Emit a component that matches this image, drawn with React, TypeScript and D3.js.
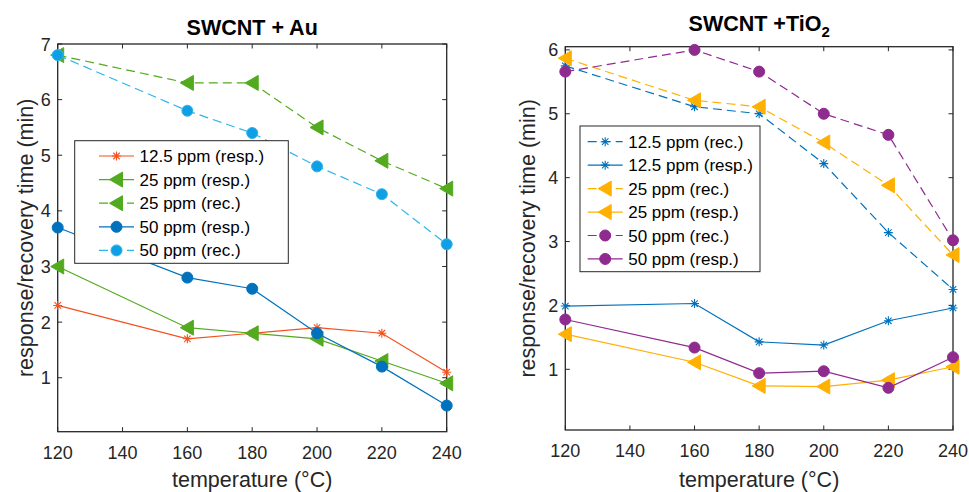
import React from 'react';
import * as d3 from 'd3';

// temperatures (°C) used for every series
const temps = [120, 160, 180, 200, 220, 240];

// SWCNT + Au (min)
const auResp125 = [2.3, 1.7, 1.8, 1.9, 1.8, 1.1];
const auResp25 = [3.0, 1.9, 1.8, 1.7, 1.3, 0.9];
const auRec25 = [6.8, 6.3, 6.3, 5.5, 4.9, 4.4];
const auResp50 = [3.7, 2.8, 2.6, 1.8, 1.2, 0.5];
const auRec50 = [6.8, 5.8, 5.4, 4.8, 4.3, 3.4];

// SWCNT + TiO2 (min)
const tiRec125 = [5.75, 5.11, 5.0, 4.22, 3.14, 2.25];
const tiResp125 = [1.99, 2.03, 1.43, 1.38, 1.76, 1.96];
const tiRec25 = [5.87, 5.21, 5.11, 4.55, 3.88, 2.79];
const tiResp25 = [1.55, 1.11, 0.74, 0.73, 0.83, 1.04];
const tiRec50 = [5.66, 6.0, 5.66, 5.0, 4.67, 3.02];
const tiResp50 = [1.78, 1.34, 0.94, 0.97, 0.71, 1.19];

const xTicks = [120, 140, 160, 180, 200, 220, 240];
const auYTicks = [1, 2, 3, 4, 5, 6, 7];
const tiYTicks = [1, 2, 3, 4, 5, 6];
const auYLim = [0.03, 7];
const tiYLim = [0.05, 6.05];

const auLabels = ['12.5 ppm (resp.)', '25 ppm (resp.)', '25 ppm (rec.)', '50 ppm (resp.)', '50 ppm (rec.)'];
const tiLabels = ['12.5 ppm (rec.)', '12.5 ppm (resp.)', '25 ppm (rec.)', '25 ppm (resp.)', '50 ppm (rec.)', '50 ppm (resp.)'];

const FONT = 'Liberation Sans, Arial, Helvetica, sans-serif';
const AX = '#262626';

type Marker = 'star' | 'tri' | 'circle';
type Series = {
  label: string;
  values: number[];
  color: string;
  fill: string;
  marker: Marker;
  dashed: boolean;
};

const orange = '#F4511E';
const green = '#52AA1E';
const blue = '#0072BD';
const cyan = '#2CB5EE';
const yellow = '#FFB000';
const purple = '#8F2A8F';

const auSeries: Series[] = [
  { label: auLabels[0], values: auResp125, color: orange, fill: orange, marker: 'star', dashed: false },
  { label: auLabels[1], values: auResp25, color: green, fill: green, marker: 'tri', dashed: false },
  { label: auLabels[2], values: auRec25, color: green, fill: green, marker: 'tri', dashed: true },
  { label: auLabels[3], values: auResp50, color: blue, fill: blue, marker: 'circle', dashed: false },
  { label: auLabels[4], values: auRec50, color: cyan, fill: '#0F9FE4', marker: 'circle', dashed: true },
];

const tiSeries: Series[] = [
  { label: tiLabels[0], values: tiRec125, color: blue, fill: blue, marker: 'star', dashed: true },
  { label: tiLabels[1], values: tiResp125, color: blue, fill: blue, marker: 'star', dashed: false },
  { label: tiLabels[2], values: tiRec25, color: yellow, fill: yellow, marker: 'tri', dashed: true },
  { label: tiLabels[3], values: tiResp25, color: yellow, fill: yellow, marker: 'tri', dashed: false },
  { label: tiLabels[4], values: tiRec50, color: purple, fill: purple, marker: 'circle', dashed: true },
  { label: tiLabels[5], values: tiResp50, color: purple, fill: purple, marker: 'circle', dashed: false },
];

function MarkerShape({ type, x, y, color, fill }: { type: Marker; x: number; y: number; color: string; fill: string }) {
  if (type === 'circle') {
    return <circle cx={x} cy={y} r={5.5} fill={fill} stroke={color} strokeWidth={1} />;
  }
  if (type === 'tri') {
    return (
      <path
        d={`M${x - 7},${y} L${x + 6},${y - 7.5} L${x + 6},${y + 7.5} Z`}
        fill={fill}
        stroke={color}
        strokeWidth={1}
      />
    );
  }
  const r = 4.5;
  const d = r * 0.72;
  return (
    <path
      d={`M${x - r},${y}H${x + r}M${x},${y - r}V${y + r}M${x - d},${y - d}L${x + d},${y + d}M${x - d},${y + d}L${x + d},${y - d}`}
      stroke={color}
      strokeWidth={1.1}
      fill="none"
    />
  );
}

type PanelProps = {
  title: React.ReactNode;
  titleY: number;
  box: { x0: number; x1: number; y0: number; y1: number };
  yLim: number[];
  yTicks: number[];
  series: Series[];
  legend: { x: number; y: number; w: number; h: number; row0: number; step: number; pad: number };
  yLabelX: number;
};

function Panel({ title, titleY, box, yLim, yTicks, series, legend, yLabelX }: PanelProps) {
  const x = d3.scaleLinear().domain([120, 240]).range([box.x0, box.x1]);
  const y = d3.scaleLinear().domain(yLim).range([box.y1, box.y0]);
  const line = d3
    .line<number>()
    .x((_, i) => x(temps[i]))
    .y((v) => y(v));
  const tick = 4.5;
  const cx = (box.x0 + box.x1) / 2;
  const cy = (box.y0 + box.y1) / 2;

  return (
    <g fontFamily={FONT}>
      <text x={cx} y={titleY} textAnchor="middle" fontSize={21.5} fontWeight="bold" fill="#000">
        {title}
      </text>

      <rect x={box.x0} y={box.y0} width={box.x1 - box.x0} height={box.y1 - box.y0} fill="white" />
      {xTicks.map((t) => (
        <g key={'x' + t}>
          <line x1={x(t)} x2={x(t)} y1={box.y1} y2={box.y1 - tick} stroke={AX} />
          <line x1={x(t)} x2={x(t)} y1={box.y0} y2={box.y0 + tick} stroke={AX} />
          <text x={x(t)} y={box.y1 + 27} textAnchor="middle" fontSize={18} fill={AX}>
            {t}
          </text>
        </g>
      ))}
      {yTicks.map((t) => (
        <g key={'y' + t}>
          <line x1={box.x0} x2={box.x0 + tick} y1={y(t)} y2={y(t)} stroke={AX} />
          <line x1={box.x1} x2={box.x1 - tick} y1={y(t)} y2={y(t)} stroke={AX} />
          <text x={box.x0 - 7} y={y(t) + 6.5} textAnchor="end" fontSize={18} fill={AX}>
            {t}
          </text>
        </g>
      ))}
      <rect
        x={box.x0}
        y={box.y0}
        width={box.x1 - box.x0}
        height={box.y1 - box.y0}
        fill="none"
        stroke={AX}
        strokeWidth={1.3}
      />

      <text x={cx} y={487} textAnchor="middle" fontSize={21.5} fill={AX}>
        temperature (°C)
      </text>
      <text
        transform={`translate(${yLabelX},${cy}) rotate(-90)`}
        textAnchor="middle"
        fontSize={21.5}
        fill={AX}
      >
        response/recovery time (min)
      </text>

      {series.map((s) => (
        <g key={s.label}>
          <path
            d={line(s.values) || ''}
            fill="none"
            stroke={s.color}
            strokeWidth={1.2}
            strokeDasharray={s.dashed ? '9,5' : undefined}
          />
          {s.values.map((v, i) => (
            <MarkerShape key={i} type={s.marker} x={x(temps[i])} y={y(v)} color={s.color} fill={s.fill} />
          ))}
        </g>
      ))}

      <rect x={legend.x} y={legend.y} width={legend.w} height={legend.h} fill="white" stroke={AX} strokeWidth={1} />
      {series.map((s, i) => {
        const ry = legend.row0 + i * legend.step;
        const lx0 = legend.x + legend.pad;
        return (
          <g key={'lg' + s.label}>
            <line
              x1={lx0}
              x2={lx0 + 35}
              y1={ry}
              y2={ry}
              stroke={s.color}
              strokeWidth={1.2}
              strokeDasharray={s.dashed ? '9,5' : undefined}
            />
            <MarkerShape type={s.marker} x={lx0 + 17.5} y={ry} color={s.color} fill={s.fill} />
            <text x={lx0 + 40.5} y={ry + 6} fontSize={17} fill="#000">
              {s.label}
            </text>
          </g>
        );
      })}
    </g>
  );
}

export default function App() {
  return (
    <svg
      width={969}
      height={492}
      style={{ position: 'absolute', left: 0, top: 0, background: 'white' }}
    >
      <rect width={969} height={492} fill="white" />
      <Panel
        title="SWCNT + Au"
        titleY={35}
        box={{ x0: 57.7, x1: 446.7, y0: 44, y1: 431.7 }}
        yLim={auYLim}
        yTicks={auYTicks}
        series={auSeries}
        legend={{ x: 74.7, y: 140.7, w: 213.6, h: 122.6, row0: 156, step: 23.6, pad: 24.3 }}
        yLabelX={33}
      />
      <Panel
        title={
          <>
            SWCNT +TiO
            <tspan dy={6} fontSize={15}>
              2
            </tspan>
          </>
        }
        titleY={31}
        box={{ x0: 565.3, x1: 953, y0: 46.7, y1: 430 }}
        yLim={tiYLim}
        yTicks={tiYTicks}
        series={tiSeries}
        legend={{ x: 580, y: 126, w: 180, h: 145.7, row0: 141.7, step: 23.45, pad: 7.7 }}
        yLabelX={535}
      />
    </svg>
  );
}
